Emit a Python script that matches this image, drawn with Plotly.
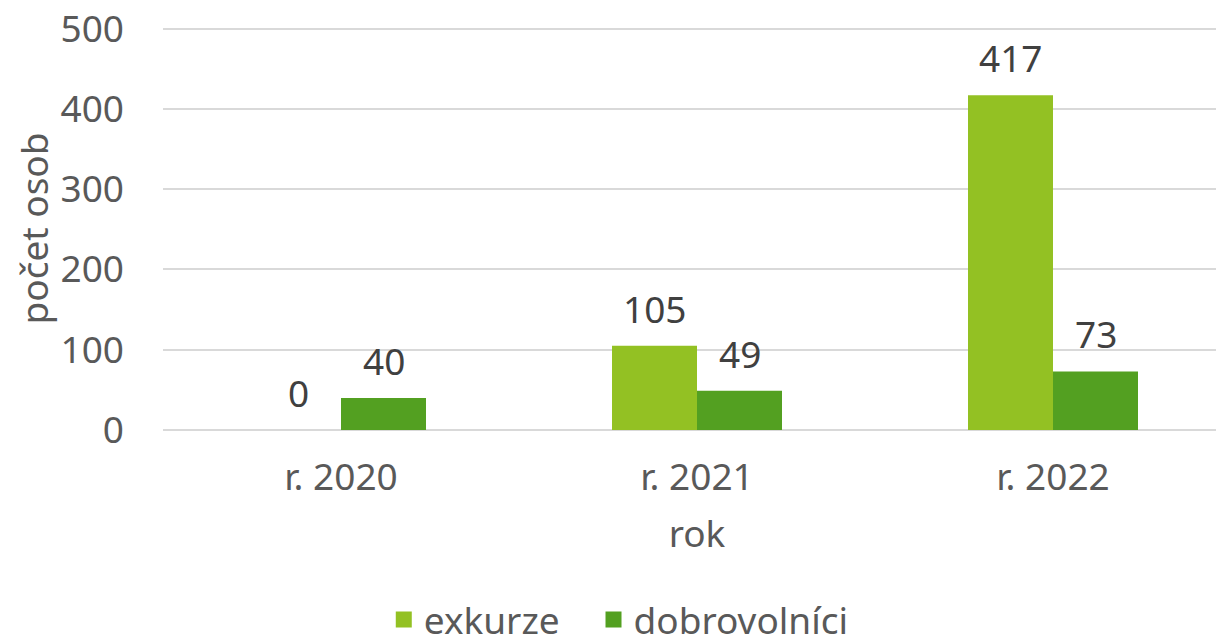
import plotly.graph_objects as go

# kategorie a hodnoty
roky = ['r. 2020', 'r. 2021', 'r. 2022']
exkurze = [0, 105, 417]
dobrovolnici = [40, 49, 73]

barvy = {'exkurze': '#93C123', 'dobrovolníci': '#53A021'}
pismo = 'Noto Sans'
serie = [('exkurze', exkurze, -42.5), ('dobrovolníci', dobrovolnici, 42.5)]

fig = go.Figure()
for nazev, hodnoty, _ in serie:
    fig.add_trace(go.Bar(
        x=roky, y=hodnoty, name=nazev, showlegend=False,
        marker=dict(color=barvy[nazev], line=dict(width=0)),
    ))

# legenda s většími čtverečky
for i, (nazev, _, _) in enumerate(serie):
    fig.add_trace(go.Scatter(
        x=[None], y=[None], mode='markers',
        name=nazev + ('\u00a0' * 3 if i == 0 else ''),
        marker=dict(symbol='square', size=22, color=barvy[nazev]),
    ))

# popisky hodnot nad sloupci
for nazev, hodnoty, posun in serie:
    for rok, v in zip(roky, hodnoty):
        fig.add_annotation(
            x=rok, y=v, text=str(v), showarrow=False,
            xshift=posun, yshift=10, yanchor='bottom',
            font=dict(size=37, color='#404040', family=pismo),
        )

# stránka má okraj 8 px (body margin)
fig.update_layout(
    width=1224, height=638,
    margin=dict(l=155, r=1, t=19, b=216),
    paper_bgcolor='white', plot_bgcolor='white',
    barmode='group', bargap=0.5225, bargroupgap=0,
    font=dict(family=pismo, size=37, color='#595959'),
    legend=dict(orientation='h', x=0.499, xanchor='center', xref='container',
                y=0.041, yanchor='middle', yref='container',
                font=dict(size=37, color='#595959'), itemwidth=30),
    showlegend=True,
)
fig.update_xaxes(
    title=dict(text='rok', font=dict(size=37, color='#595959'), standoff=21),
    showline=False, showgrid=False, ticks='', ticklabelstandoff=22,
    automargin=False,
)
fig.update_yaxes(
    title=dict(text='počet osob', font=dict(size=37, color='#595959'), standoff=6),
    range=[0, 502], tickvals=[0, 100, 200, 300, 400, 500],
    showgrid=True, gridcolor='#D9D9D9', gridwidth=1.5,
    zeroline=True, zerolinecolor='#D9D9D9', zerolinewidth=1.5,
    ticks='', ticklabelstandoff=38, ticklabeloverflow='allow', automargin=False,
)

fig.write_html("out.html")
